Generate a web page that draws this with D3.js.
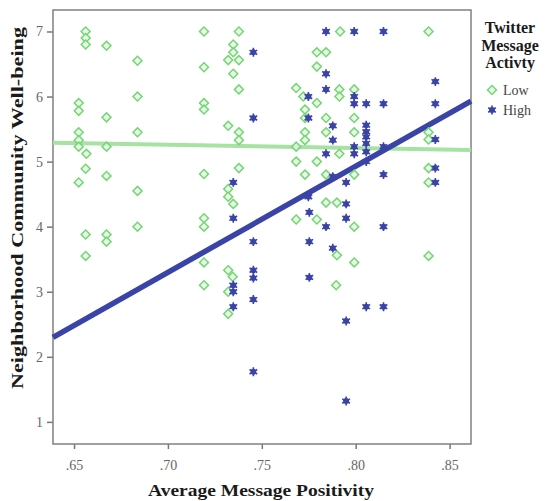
<!DOCTYPE html>
<html>
<head>
<meta charset="utf-8">
<script src="https://cdn.jsdelivr.net/npm/d3@7"></script>
<style>
  body { margin: 0; background: #fff; }
  svg { display: block; }
</style>
</head>
<body>
<div id="chart"></div>
<script>
// values: [positivity, well-being]
const lowPoints = [
  [0.6562, 7.00], [0.6562, 6.90], [0.6562, 6.80], [0.6673, 6.78], [0.6838, 6.55],
  [0.6525, 5.90], [0.6525, 5.78], [0.6673, 5.68], [0.6838, 6.00], [0.6525, 5.45],
  [0.6525, 5.33], [0.6525, 5.23], [0.6566, 5.12], [0.6673, 5.23], [0.6838, 5.45],
  [0.6562, 4.89], [0.6525, 4.68], [0.6673, 4.78], [0.6838, 4.55],
  [0.6562, 3.88], [0.6673, 3.88], [0.6673, 3.77], [0.6562, 3.55], [0.6838, 4.00],
  [0.7192, 7.00], [0.7378, 7.00], [0.7348, 6.80], [0.7348, 6.68], [0.7321, 6.56],
  [0.7378, 6.56], [0.7192, 6.45], [0.7348, 6.35], [0.7378, 6.11], [0.7192, 5.90],
  [0.7192, 5.80], [0.7321, 5.55], [0.7378, 5.45], [0.7378, 5.33], [0.7192, 4.81],
  [0.7378, 4.90], [0.7321, 4.58], [0.7321, 4.46], [0.7348, 4.35], [0.7192, 4.13],
  [0.7192, 4.00], [0.7192, 3.45], [0.7321, 3.33], [0.7345, 3.23], [0.7192, 3.10],
  [0.7321, 3.00], [0.7321, 2.66],
  [0.7683, 6.13], [0.7721, 6.00], [0.7793, 6.68], [0.7842, 6.68], [0.7793, 6.46],
  [0.7730, 5.80], [0.7793, 5.90], [0.7730, 5.67], [0.7842, 5.67], [0.7730, 5.45],
  [0.7842, 5.45], [0.7683, 5.23], [0.7730, 5.33], [0.7683, 5.00], [0.7793, 5.00],
  [0.7730, 4.80], [0.7842, 4.80], [0.7842, 4.37], [0.7900, 4.37], [0.7683, 4.11],
  [0.7793, 4.11], [0.7900, 3.56], [0.7896, 3.10],
  [0.7917, 7.00], [0.8388, 7.00], [0.7913, 6.11], [0.7992, 6.11], [0.7913, 6.00],
  [0.7992, 5.67], [0.7992, 5.45], [0.7913, 5.12], [0.8388, 5.45], [0.8388, 5.34],
  [0.8388, 4.90], [0.8388, 4.68], [0.7992, 4.80], [0.7992, 4.00], [0.7992, 3.45],
  [0.8388, 3.55]
];

const highPoints = [
  [0.7455, 6.68], [0.7455, 5.67], [0.7348, 4.68], [0.7348, 4.13], [0.7748, 6.00],
  [0.7748, 5.67], [0.7748, 4.46], [0.7753, 4.22], [0.7842, 7.00], [0.7842, 6.35],
  [0.7842, 6.11], [0.7878, 5.55], [0.7878, 5.33], [0.7842, 5.12], [0.7878, 4.77],
  [0.7992, 7.00], [0.8148, 7.00], [0.8424, 6.23], [0.8424, 5.89], [0.7992, 6.00],
  [0.7992, 5.89], [0.8056, 5.89], [0.8148, 5.89], [0.8056, 5.56], [0.8056, 5.46],
  [0.8056, 5.38], [0.8056, 5.28], [0.7992, 5.23], [0.8148, 5.23], [0.7992, 5.12],
  [0.8056, 5.15], [0.8056, 5.00], [0.8424, 5.34], [0.8424, 4.90], [0.8424, 4.68],
  [0.7949, 4.68], [0.8148, 4.80], [0.7949, 4.35], [0.7949, 4.13],
  [0.7455, 3.77], [0.7348, 3.10], [0.7348, 3.00], [0.7455, 3.33], [0.7455, 3.21],
  [0.7348, 2.77], [0.7455, 2.88], [0.7455, 1.77], [0.7842, 4.00], [0.7753, 3.77],
  [0.7878, 3.67], [0.7753, 3.22], [0.8148, 4.00], [0.8056, 2.77], [0.8148, 2.77],
  [0.7949, 2.55], [0.7949, 1.32]
];

// fit lines, ends at the edges of the plot
const lowFit = [[0.6388, 5.29], [0.8614, 5.18]];
const highFit = [[0.6388, 2.30], [0.8614, 5.93]];

const xTicks = [0.65, 0.70, 0.75, 0.80, 0.85];
const xTickLabels = [".65", ".70", ".75", ".80", ".85"];
const yTicks = [1, 2, 3, 4, 5, 6, 7];
const legendTitle = ["Twitter", "Message", "Activty"];
const legendItems = ["Low", "High"];

const margin = { top: 10, right: 75, bottom: 57, left: 53 };
const width = 546 - margin.left - margin.right;
const height = 501 - margin.top - margin.bottom;

const lowStroke = "#74d674", lowFill = "#e2f7de", lowLine = "#a6e2a1";
const highColor = "#3a44a6";
const serif = "'Liberation Serif', 'Times New Roman', serif";

const svg = d3.select("#chart").append("svg").attr("width", 546).attr("height", 501);
const g = svg.append("g").attr("transform", `translate(${margin.left},${margin.top})`);

const x = d3.scaleLinear().domain([0.6388, 0.8614]).range([0, width]);
const y = d3.scaleLinear().domain([0.66, 7.33]).range([height, 0]);

// axes
const xAxis = g.append("g").attr("transform", `translate(0,${height})`)
  .call(d3.axisBottom(x).tickValues(xTicks).tickSize(5).tickPadding(11)
    .tickFormat((d, i) => xTickLabels[i]));
const yAxis = g.append("g")
  .call(d3.axisLeft(y).tickValues(yTicks).tickSize(6).tickPadding(4).tickFormat(d3.format("d")));

[xAxis, yAxis].forEach(a => {
  a.select(".domain").remove();
  a.selectAll("line").attr("stroke", "#777").attr("stroke-width", 1.5);
  a.selectAll("text").attr("fill", "#666").style("font-family", serif).style("font-size", "14px");
});

g.append("rect").attr("width", width).attr("height", height)
  .attr("fill", "none").attr("stroke", "#808080").attr("stroke-width", 1.5);

// fit lines
const line = d3.line().x(d => x(d[0])).y(d => y(d[1]));
g.append("path").datum(lowFit).attr("d", line).attr("fill", "none")
  .attr("stroke", lowLine).attr("stroke-width", 4);
g.append("path").datum(highFit).attr("d", line).attr("fill", "none")
  .attr("stroke", highColor).attr("stroke-width", 5.5);

// markers
const diamond = d3.symbol(d3.symbolSquare, 40);
const star = d3.symbol(d3.symbolAsterisk, 55);

function drawDiamond(sel) {
  sel.append("path").attr("d", diamond)
    .attr("fill", lowFill).attr("fill-opacity", 0.8)
    .attr("stroke", lowStroke).attr("stroke-width", 1.5);
}
function drawStar(sel) {
  sel.append("circle").attr("r", 3).attr("fill", highColor);
  sel.append("path").attr("d", star).attr("fill", "none")
    .attr("stroke", highColor).attr("stroke-width", 1.6);
}

g.append("g").selectAll("g").data(lowPoints).join("g")
  .attr("transform", d => `translate(${x(d[0])},${y(d[1])}) rotate(45)`)
  .call(drawDiamond);
g.append("g").selectAll("g").data(highPoints).join("g")
  .attr("transform", d => `translate(${x(d[0])},${y(d[1])})`)
  .call(drawStar);

// axis titles
svg.append("text").attr("x", 261).attr("y", 496)
  .attr("text-anchor", "middle").attr("fill", "#1a1a1a")
  .attr("textLength", 226).attr("lengthAdjust", "spacingAndGlyphs")
  .style("font-family", serif).style("font-weight", "bold").style("font-size", "17px")
  .text("Average Message Positivity");
svg.append("text").attr("transform", "translate(23,208) rotate(-90)")
  .attr("text-anchor", "middle").attr("fill", "#1a1a1a")
  .attr("textLength", 362).attr("lengthAdjust", "spacingAndGlyphs")
  .style("font-family", serif).style("font-weight", "bold").style("font-size", "17px")
  .text("Neighborhood Community Well-being");

// legend
const legend = svg.append("g").attr("transform", "translate(510,0)");
legend.selectAll("text.title").data(legendTitle).join("text").attr("class", "title")
  .attr("x", 0).attr("y", (d, i) => 33 + i * 17.5)
  .attr("text-anchor", "middle").attr("fill", "#1a1a1a")
  .style("font-family", serif).style("font-weight", "bold").style("font-size", "16px")
  .text(d => d);
const items = legend.selectAll("g.item").data(legendItems).join("g").attr("class", "item")
  .attr("transform", (d, i) => `translate(-18,${90 + i * 20})`);
items.filter((d, i) => i === 0).append("g").attr("transform", "rotate(45)").call(drawDiamond);
items.filter((d, i) => i === 1).call(drawStar);
items.append("text").attr("x", 11).attr("y", 5)
  .attr("fill", "#444")
  .style("font-family", serif).style("font-size", "14px")
  .text(d => d);
</script>
</body>
</html>
